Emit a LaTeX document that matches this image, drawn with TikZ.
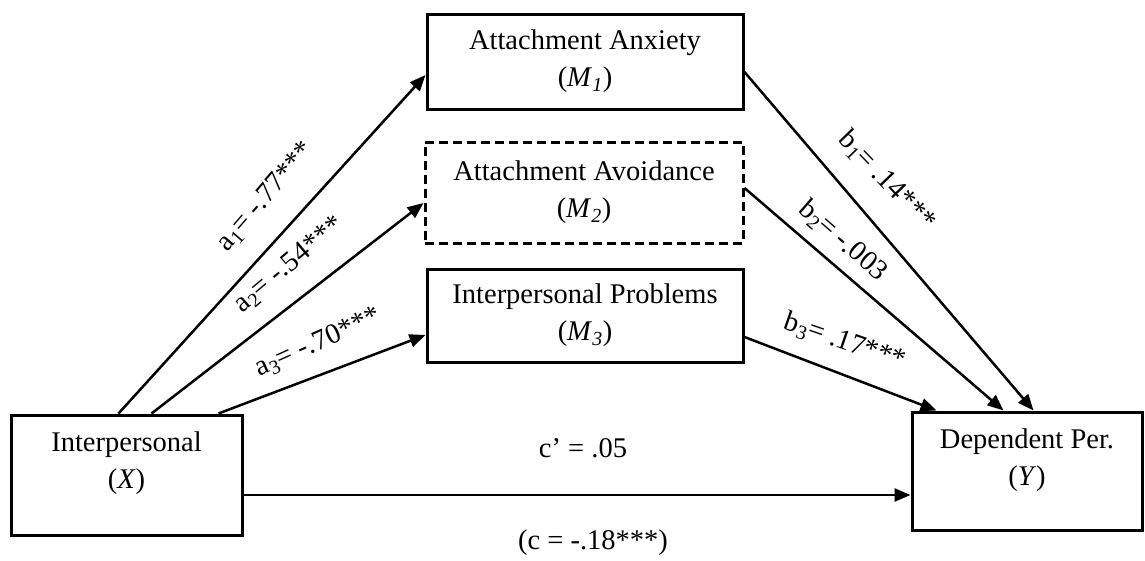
\documentclass[tikz,border=0pt]{standalone}
\usepackage{fontspec}
\setmainfont{Liberation Serif}
\usetikzlibrary{arrows.meta,calc}
\begin{document}
\begin{tikzpicture}[x=1pt,y=-1pt,
  font=\fontsize{28.5}{37}\selectfont,
  box/.style={draw,line width=3pt,rectangle,inner sep=0pt,align=center},
  dbox/.style={box,dash pattern=on 9pt off 5pt},
  arr/.style={line width=2.5pt,-{Triangle[length=16pt,width=13pt]}},
  lab/.style={inner sep=0pt}]
\useasboundingbox (0,0) rectangle (1145,560);
% boxes
\node[box,minimum width=231pt,minimum height=120pt] (x) at (126.5,475) {};
\node[lab,align=center] (xt) at (126.5,463) {Interpersonal\\(\textit{X})};
\node[box,minimum width=230pt,minimum height=118pt] (y) at (1027,471) {};
\node[lab,align=center] (yt) at (1027,460) {Dependent Per.\\(\textit{Y})};
\node[box,minimum width=316pt,minimum height=95pt] (m1) at (585,61.5)
  {Attachment Anxiety\\(\textit{M}\textsubscript{\textit{1}})};
\node[dbox,minimum width=318pt,minimum height=101pt] (m2) at (584,192.5)
  {Attachment Avoidance\\(\textit{M}\textsubscript{\textit{2}})};
\node[box,minimum width=316pt,minimum height=93pt] (m3) at (585,315.5)
  {Interpersonal Problems\\(\textit{M}\textsubscript{\textit{3}})};
% arrows
\draw[arr] ([xshift=109pt]x.north west) -- ([yshift=-13.5pt]m1.west);
\draw[arr] ([xshift=142pt]x.north west) -- ([yshift=-10.5pt]m2.west);
\draw[arr] ([xshift=209pt]x.north west) -- ([yshift=-19.5pt]m3.west);
\draw[arr] ([yshift=-10.5pt]m1.east) -- ([xshift=123pt]y.north west);
\draw[arr] ([yshift=4.5pt]m2.east) -- ([xshift=93pt]y.north west);
\draw[arr] ([yshift=-21.5pt]m3.east) -- ([xshift=26pt]y.north west);
\draw[arr] ([yshift=-20pt]x.east) -- ([yshift=-24pt]y.west);
% labels
\node[lab,rotate=49] (la1) at (266,197) {a\textsubscript{1}= -.77***};
\node[lab,rotate=40] (la2) at (289,265) {a\textsubscript{2}= -.54***};
\node[lab,rotate=24] (la3) at (318,343) {a\textsubscript{3}= -.70***};
\node[lab,rotate=-46] (lb1) at (887,181) {b\textsubscript{1}= .14***};
\node[lab,rotate=-41] (lb2) at (843,241) {b\textsubscript{2}= -.003};
\node[lab,rotate=-19] (lb3) at (845,342) {b\textsubscript{3}= .17***};
\node[lab] (lc1) at (583,448) {c’ = .05};
\node[lab] (lc) at (593,543) {(c = -.18***)};
\end{tikzpicture}
\end{document}
